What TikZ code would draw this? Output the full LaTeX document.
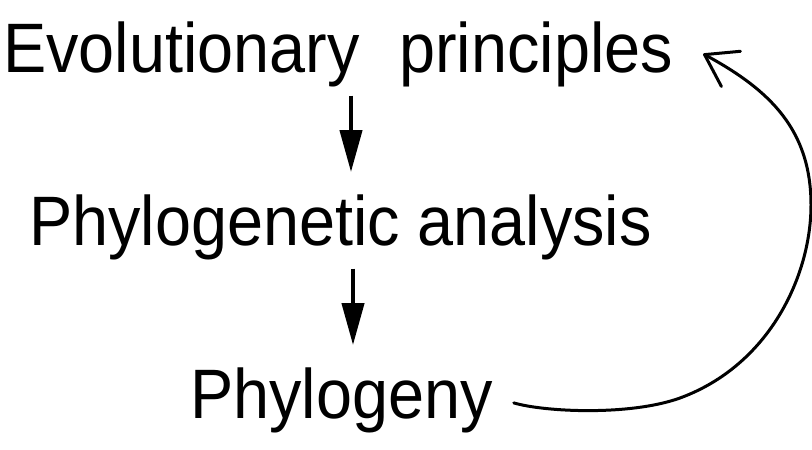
\documentclass[tikz,border=0pt]{standalone}
\usepackage{fontspec}
\setmainfont{Liberation Sans}[FakeStretch=0.925]
\usetikzlibrary{arrows.meta}
\begin{document}
\begin{tikzpicture}[x=1pt,y=-1pt,
  lbl/.style={anchor=base west,inner sep=0pt,font=\fontsize{70}{80}\selectfont},
  varrow/.style={line width=4.2pt,-{Triangle[length=42pt,width=22pt]}},
  carrow/.style={line width=3pt,line cap=round,-{Straight Barb[length=30pt,width=40pt,line cap=round,line join=round]}}]
\useasboundingbox (0,0) rectangle (812,450);
\node[lbl] (a) at (3,72) {Evolutionary\hspace{40pt}principles};
\node[lbl] (b) at (29,245) {Phylogenetic analysis};
\node[lbl] (c) at (190,418) {Phylogeny};
\coordinate (ax) at (351,0);
\coordinate (bx) at (353,0);
\draw[varrow] ([yshift=-9pt]a.south -| ax) -- ([yshift=22pt]b.north -| ax);
\draw[varrow] ([yshift=-9pt]b.south -| bx) -- ([yshift=22pt]c.north -| bx);
\coordinate (k1) at (680,398);
\coordinate (k2) at (811,205);
\draw[carrow] ([xshift=21pt,yshift=-3pt]c.east)
  .. controls (545,412) and (630,416) .. (k1)
  .. controls (770,365) and (811,275) .. (k2)
  .. controls (811,130) and (770,90) .. ([xshift=30pt]a.east);
\end{tikzpicture}
\end{document}
